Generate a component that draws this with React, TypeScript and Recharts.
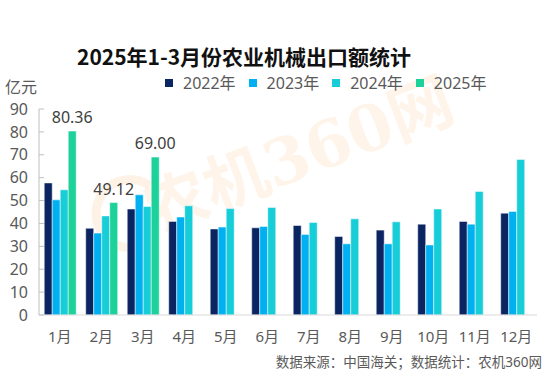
import { BarChart, Bar, XAxis, YAxis, LabelList } from "recharts"

// 2025年1-3月份农业机械出口额 (亿元)
const months = ["1月", "2月", "3月", "4月", "5月", "6月", "7月", "8月", "9月", "10月", "11月", "12月"]
const exports2022 = [57.7, 37.9, 46.3, 40.9, 37.6, 38.1, 39.1, 34.3, 37.1, 39.7, 40.9, 44.5]
const exports2023 = [50.3, 35.8, 52.5, 42.8, 38.4, 38.7, 35.2, 31.1, 31.1, 30.6, 39.7, 45.2]
const exports2024 = [54.7, 43.3, 47.4, 47.7, 46.5, 47.0, 40.4, 42.0, 40.7, 46.3, 54.0, 67.9]
const exports2025 = [80.36, 49.12, 69.0]
const yTicks = [0, 10, 20, 30, 40, 50, 60, 70, 80, 90]

const series = [
  { key: "y2022", name: "2022年", color: "#0b2462" },
  { key: "y2023", name: "2023年", color: "#00b0f0" },
  { key: "y2024", name: "2024年", color: "#17cdd8" },
  { key: "y2025", name: "2025年", color: "#1dd29a" },
]

const data = months.map((m, i) => ({
  month: m,
  y2022: exports2022[i],
  y2023: exports2023[i],
  y2024: exports2024[i],
  y2025: exports2025[i] ?? null,
}))

const font = "'Noto Sans', 'Noto Sans CJK SC', sans-serif"
const gray = "#595959"

export default function App() {
  return (
    <div
      style={{
        position: "fixed",
        left: 0,
        top: 0,
        width: 554,
        height: 373,
        background: "#fff",
        overflow: "hidden",
        fontFamily: font,
      }}
    >
      {/* watermark */}
      <svg width={554} height={373} style={{ position: "absolute", left: 0, top: 0 }}>
        <path
          d="M 150 186 A 34 34 0 1 0 140 246"
          fill="none"
          stroke="#fbd9b8"
          strokeOpacity={0.35}
          strokeWidth={9}
        />
        <text
          x={300}
          y={178}
          textAnchor="middle"
          transform="rotate(-21 300 160)"
          fill="#fcd9b6"
          fillOpacity={0.3}
          fontSize={64}
          fontWeight="bold"
        >
          <tspan fontFamily="'Noto Sans CJK SC'">农机</tspan>
          <tspan fontFamily="'DejaVu Serif', 'Noto Sans CJK SC'">360网</tspan>
        </text>
      </svg>

      <div
        style={{
          position: "absolute",
          left: 77,
          top: 42,
          fontSize: 21,
          fontWeight: "bold",
          color: "#111",
          fontFamily: "'Noto Sans CJK SC', sans-serif",
          whiteSpace: "nowrap",
          lineHeight: "28px",
        }}
      >
        2025年1-3月份农业机械出口额统计
      </div>

      <div style={{ position: "absolute", left: 5, top: 77, fontSize: 16, color: gray, lineHeight: "20px" }}>
        亿元
      </div>

      <div style={{ position: "absolute", left: 165, top: 72, display: "flex", gap: 13 }}>
        {series.map((s) => (
          <div key={s.key} style={{ display: "flex", alignItems: "center", fontSize: 16, color: gray, lineHeight: "22px" }}>
            <span style={{ width: 8, height: 8, background: s.color, marginRight: 10 }} />
            {s.name}
          </div>
        ))}
      </div>

      <div
        style={{
          position: "absolute",
          right: 12,
          top: 352,
          fontSize: 13.5,
          color: gray,
          whiteSpace: "nowrap",
          lineHeight: "20px",
        }}
      >
        数据来源：中国海关；数据统计：农机360网
      </div>

      <div style={{ position: "absolute", left: 0, top: 0 }}>
        <BarChart
          width={554}
          height={373}
          data={data}
          margin={{ top: 109, right: 17, left: 0, bottom: 28 }}
          barCategoryGap="12.6%"
          barGap={0}
        >
          <XAxis
            dataKey="month"
            axisLine={{ stroke: "#d9d9d9" }}
            tickLine={false}
            tickMargin={10}
            interval={0}
            tick={{ fill: gray, fontSize: 15, fontFamily: font }}
          />
          <YAxis
            width={39}
            domain={[0, 90]}
            ticks={yTicks}
            interval={0}
            axisLine={{ stroke: "#bfbfbf" }}
            tickLine={{ stroke: "#bfbfbf" }}
            tickSize={-5}
            tickMargin={16}
            tick={{ fill: gray, fontSize: 16, fontFamily: font }}
          />
          {series.map((s) => (
            <Bar
              key={s.key}
              dataKey={s.key}
              name={s.name}
              fill={s.color}
              stroke="#ffffff"
              strokeWidth={0.5}
              isAnimationActive={false}
            >
              {s.key === "y2025" && (
                <LabelList
                  dataKey="y2025"
                  position="top"
                  offset={8}
                  formatter={(v: any) => (v == null ? "" : Number(v).toFixed(2))}
                  style={{ fill: "#404040", fontSize: 16, fontFamily: font }}
                />
              )}
            </Bar>
          ))}
        </BarChart>
      </div>
    </div>
  )
}
